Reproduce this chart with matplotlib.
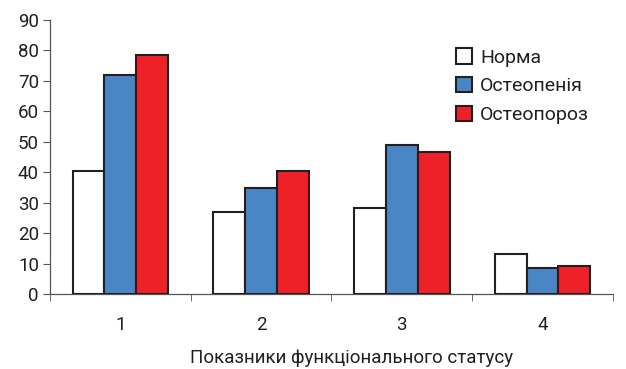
import numpy as np
import matplotlib.pyplot as plt
from matplotlib import font_manager

# Дані з графіка
categories = ['1', '2', '3', '4']
norma = [40.4, 26.9, 28.3, 13.1]
osteopenia = [72.0, 34.7, 49.0, 8.7]
osteoporoz = [78.4, 40.5, 46.5, 9.3]
series_names = ['Норма', 'Остеопенія', 'Остеопороз']
colors = ['#ffffff', '#4a86c5', '#ee2129']

names = {f.name for f in font_manager.fontManager.ttflist}
fam = [f for f in ['Liberation Sans Narrow', 'Roboto', 'DejaVu Sans'] if f in names]
plt.rcParams['font.family'] = fam
plt.rcParams['text.color'] = '#231f20'

fig = plt.figure(figsize=(6.26, 3.69), dpi=100)
ax = fig.add_axes([0.08, 0.203, 0.899, 0.743])

x = np.arange(len(categories))
w = 0.227
for i, (vals, name, col) in enumerate(zip([norma, osteopenia, osteoporoz], series_names, colors)):
    ax.bar(x + (i - 1) * w, vals, w, color=col, edgecolor='#231f20', linewidth=1.5,
           label=name, zorder=3)

ax.set_xlim(-0.5, len(categories) - 0.5)
ax.set_ylim(0, 90)
ax.set_yticks(range(0, 91, 10))
ax.set_xticks(x)
ax.set_xticklabels(categories)
ax.set_xticks(np.arange(-0.5, len(categories)), minor=True)
ax.tick_params(axis='x', which='major', length=0, pad=16, labelsize=13.5, labelcolor='#231f20')
ax.tick_params(axis='x', which='minor', length=5, color='#555555', direction='out')
ax.tick_params(axis='y', length=5, color='#555555', labelsize=13.5, labelcolor='#231f20', pad=3)

for s in ['top', 'right']:
    ax.spines[s].set_visible(False)
ax.spines['left'].set_color('#555555')
ax.spines['bottom'].set_color('#555555')
ax.spines['left'].set_linewidth(0.9)
ax.spines['bottom'].set_linewidth(0.9)

ax.set_xlabel('Показники функціонального статусу', fontsize=13.5, color='#231f20')
ax.xaxis.set_label_coords(0.536, -0.2)

ax.legend(loc='upper left', bbox_to_anchor=(0.69, 0.96), frameon=False, fontsize=14,
          handlelength=0.85, handleheight=0.85, handletextpad=0.4, labelspacing=0.52)

fig.savefig('out.png', dpi=100)
